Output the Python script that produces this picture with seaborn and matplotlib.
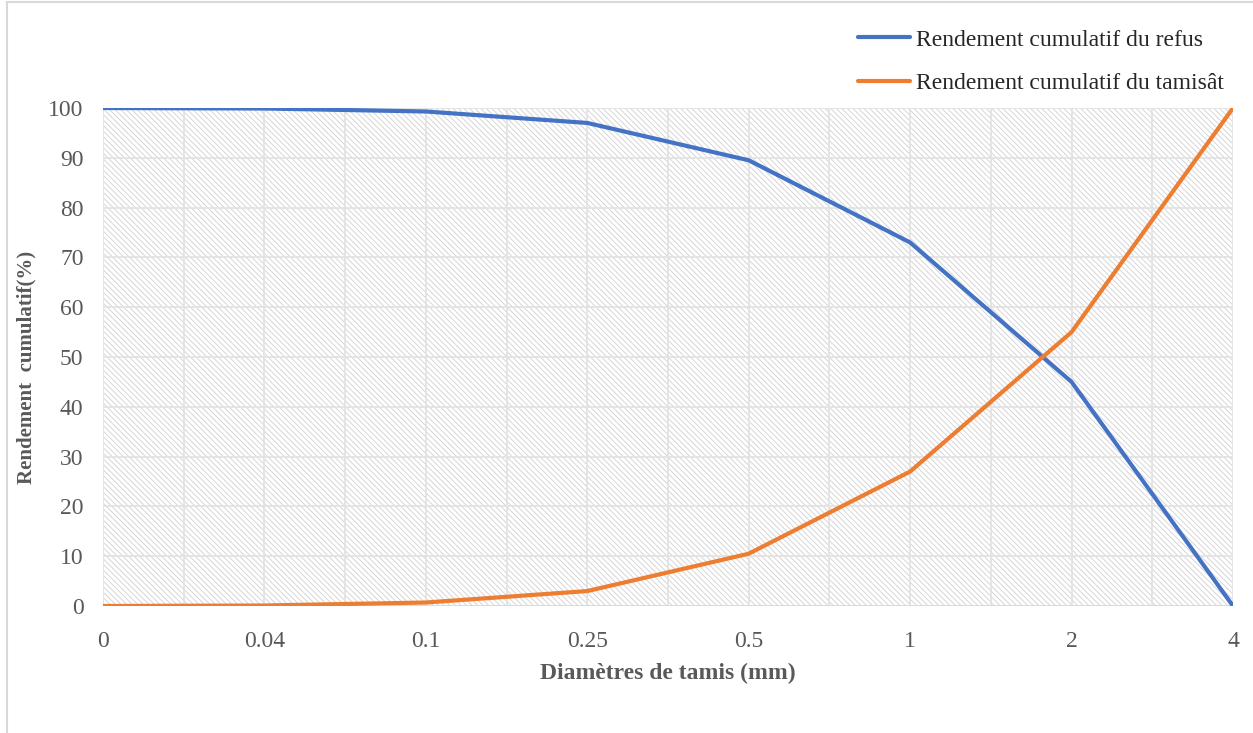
import numpy as np
import pandas as pd
import matplotlib
matplotlib.use("Agg")
import matplotlib.pyplot as plt
import seaborn as sns
from matplotlib.patches import Rectangle

# ---- data ----
diametres = ["0", "0.04", "0.1", "0.25", "0.5", "1", "2", "4"]
refus = [100, 99.9, 99.3, 97.0, 89.5, 73.0, 45.0, 0]
tamisat = [0, 0.1, 0.7, 3.0, 10.5, 27.0, 55.0, 100]
series_names = ["Rendement cumulatif du refus", "Rendement cumulatif du tamisât"]
y_ticks = [0, 10, 20, 30, 40, 50, 60, 70, 80, 90, 100]

df = pd.DataFrame({
    "Diamètre": diametres * 2,
    "Rendement": refus + tamisat,
    "Série": [series_names[0]] * len(diametres) + [series_names[1]] * len(diametres),
})

sns.set_theme(style="white")
plt.rcParams["font.family"] = ["Liberation Serif", "DejaVu Serif"]
plt.rcParams["hatch.color"] = "#d0d0d0"
plt.rcParams["hatch.linewidth"] = 0.6

FS = 17

fig = plt.figure(figsize=(12.53, 7.33), dpi=100)
ax = fig.add_axes([103 / 1253, 1 - 606 / 733, (1233 - 103) / 1253, (606 - 108) / 733])

# hatched plot background
ax.add_patch(Rectangle((0, 0), 1, 1, transform=ax.transAxes, facecolor="white",
                       edgecolor="#d0d0d0", hatch="\\\\\\\\\\\\", linewidth=0, zorder=0))

palette = {series_names[0]: "#4472C4", series_names[1]: "#ED7D31"}
sns.lineplot(data=df, x="Diamètre", y="Rendement", hue="Série", palette=palette,
             linewidth=3.0, ax=ax, legend=True, zorder=3)

ax.set_xlim(0, len(diametres) - 1)
ax.set_ylim(0, 100)
ax.set_yticks(y_ticks)
ax.set_xticks(np.arange(0.5, len(diametres) - 1, 1.0), minor=True)
ax.grid(True, which="both", color="#e3e3e3", linewidth=1.3, zorder=1)
ax.set_axisbelow(True)
for s in ax.spines.values():
    s.set_visible(False)
ax.axhline(0, color="#d9d9d9", linewidth=1.2, zorder=2)

ax.tick_params(axis="both", which="both", length=0, labelsize=FS, labelcolor="#595959")
ax.tick_params(axis="x", pad=18)
ax.tick_params(axis="y", pad=14)

ax.set_xlabel("Diamètres de tamis (mm)", fontsize=FS, fontweight="bold",
              color="#595959", labelpad=8)
ax.set_ylabel("Rendement  cumulatif(%)", fontsize=15, fontweight="bold",
              color="#595959")
ax.yaxis.set_label_coords((36 - 103) / 1130, (606 - 367) / 498)

handles, labels = ax.get_legend_handles_labels()
ax.legend(handles, labels, loc="upper left", bbox_to_anchor=(858 / 1253, 1 - 29 / 733),
          bbox_transform=fig.transFigure, frameon=False, fontsize=FS,
          handlelength=2.2, handletextpad=0.25, labelspacing=0.95, borderaxespad=0,
          borderpad=0)

# outer chart border (left and top visible)
fig.add_artist(Rectangle((7 / 1253, -0.1), 1.2, 1 - 2 / 733 + 0.1,
                         transform=fig.transFigure, fill=False,
                         edgecolor="#d9d9d9", linewidth=1.5))

fig.savefig("out.png", dpi=100)
